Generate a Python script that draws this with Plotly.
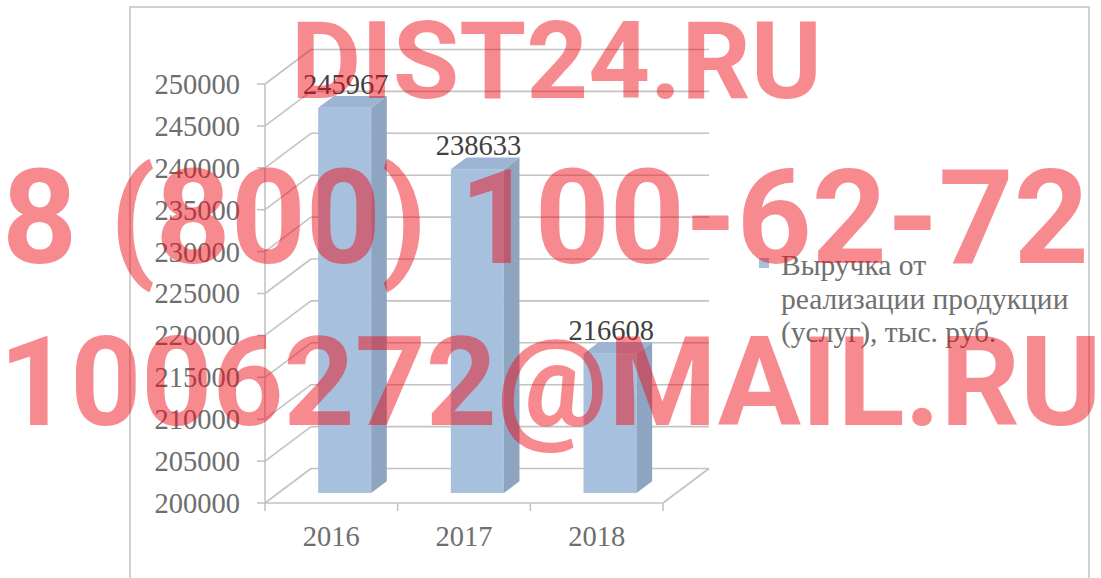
import plotly.graph_objects as go

# ---------------- data ----------------
years = ["2016", "2017", "2018"]
revenue = [245967, 238633, 216608]
y_tick_values = [200000, 205000, 210000, 215000, 220000, 225000,
                 230000, 235000, 240000, 245000, 250000]
y_tick_labels = [str(v) for v in y_tick_values]
series_name = "Выручка от реализации продукции (услуг), тыс. руб."
legend_lines = ["Выручка от", "реализации продукции", "(услуг), тыс. руб."]
watermark_lines = ["DIST24.RU", "8 (800) 100-62-72", "1006272@MAIL.RU"]

# ---------------- layout geometry (pixels) ----------------
W, H = 1101, 578
FRONT_LEFT_PX = 265          # x of front-left edge (category boundary -0.5)
CAT_PX = 398 / 3             # px per category
FLOOR_PX = 503               # y of value 200000 on the front plane
KY = 419 / 50000             # px per value unit
PL, PR, PT, PB = 250, 714, 40, 514   # plot area (padded so edge lines are not clipped)
DEPTH_DX_PX, DEPTH_DY_PX = 46, 34.5  # full depth of the 3D box
F_FRONT, F_BACK = 0.29, 0.63         # bar front/back depth fractions
BAR_W_PX = 53

Y0 = y_tick_values[0]
Y_TOP_TICK = y_tick_values[-1]
x_range = [-0.5 - (FRONT_LEFT_PX - PL) / CAT_PX, -0.5 + (PR - FRONT_LEFT_PX) / CAT_PX]
y_range = [Y0 - (PB - FLOOR_PX) / KY, Y0 + (FLOOR_PX - PT) / KY]
DX = DEPTH_DX_PX / CAT_PX
DY = DEPTH_DY_PX / KY
BW = BAR_W_PX / CAT_PX
n = len(years)
first_b, last_b = -0.5, n - 0.5

GRID = "#C3C3C3"
TXT = "#6E6E6E"
FRONT = "#A7C0DE"
SIDE = "#8EA5C1"
TOP = "#9DB5D3"
SERIF = "Liberation Serif, Times New Roman, serif"


def paper_x(px):
    return (px - PL) / (PR - PL)


def paper_y(py):
    return (PB - py) / (PB - PT)


fig = go.Figure()
shapes = []


def seg(x0, y0, x1, y1, color=GRID, width=1.6):
    shapes.append(dict(type="line", xref="x", yref="y", x0=x0, y0=y0, x1=x1, y1=y1,
                       line=dict(color=color, width=width), layer="below"))


# back wall gridlines + left wall diagonals
for v in y_tick_values:
    seg(first_b + DX, v + DY, last_b + DX, v + DY)
    seg(first_b, v, first_b + DX, v + DY)
    # y tick marks (outside, to the left of the front edge)
    seg(first_b - 8 / CAT_PX, v, first_b, v)
# floor front edge and right diagonal
seg(first_b, Y0, last_b, Y0)
seg(last_b, Y0, last_b + DX, Y0 + DY)
# front vertical axis
seg(first_b, Y0, first_b, Y_TOP_TICK)
# x tick marks at category boundaries
for i in range(n + 1):
    b = first_b + i
    seg(b, Y0, b, Y0 - 8 / KY)

# bars: front face
centers = [i + F_FRONT * DX for i in range(n)]
base_front = Y0 + F_FRONT * DY
fig.add_trace(go.Bar(
    x=centers, y=[v - Y0 for v in revenue], base=base_front, width=BW,
    marker=dict(color=FRONT, line=dict(width=0)), name=series_name,
    showlegend=False, hoverinfo="skip"))

ddx = (F_BACK - F_FRONT) * DX
ddy = (F_BACK - F_FRONT) * DY
for c, v in zip(centers, revenue):
    xl, xr = c - BW / 2, c + BW / 2
    top = v + F_FRONT * DY
    # side face
    fig.add_trace(go.Scatter(
        x=[xr, xr, xr + ddx, xr + ddx, xr], y=[base_front, top, top + ddy, base_front + ddy, base_front],
        mode="lines", fill="toself", fillcolor=SIDE, line=dict(width=0),
        showlegend=False, hoverinfo="skip"))
    # top face
    fig.add_trace(go.Scatter(
        x=[xl, xr, xr + ddx, xl + ddx, xl], y=[top, top, top + ddy, top + ddy, top],
        mode="lines", fill="toself", fillcolor=TOP, line=dict(width=0),
        showlegend=False, hoverinfo="skip"))

# data labels
fig.add_trace(go.Scatter(
    x=[c + ddx / 2 - 0.05 for c in centers], y=[v + F_BACK * DY - 5 / KY for v in revenue],
    mode="text", text=[str(v) for v in revenue], textposition="top center",
    textfont=dict(family=SERIF, size=28.5, color="#404040"),
    showlegend=False, hoverinfo="skip", cliponaxis=False))

# chart border
shapes.append(dict(type="rect", xref="paper", yref="paper",
                   x0=paper_x(130), x1=paper_x(1089), y0=paper_y(600), y1=paper_y(7),
                   line=dict(color="#D0D0D0", width=2), layer="below"))

# legend (drawn by hand so the line spacing matches)
shapes.append(dict(type="rect", xref="paper", yref="paper",
                   x0=paper_x(759), x1=paper_x(769), y0=paper_y(268), y1=paper_y(258),
                   fillcolor=FRONT, line=dict(width=0)))
annotations = []
for txt, cy in zip(legend_lines, [265, 299, 332]):
    annotations.append(dict(
        text=txt, xref="paper", yref="paper", x=paper_x(779), y=paper_y(cy),
        xanchor="left", yanchor="middle", showarrow=False,
        font=dict(family=SERIF, size=29.5, color="#707070")))

# watermark
wm_specs = [(556, 61, 108), (545, 218, 131), (550, 382, 124)]
for txt, (cx, cy, sz) in zip(watermark_lines, wm_specs):
    annotations.append(dict(
        text=txt, xref="paper", yref="paper", x=paper_x(cx), y=paper_y(cy),
        xanchor="center", yanchor="middle", showarrow=False,
        font=dict(family="Roboto, Liberation Sans, sans-serif", size=sz,
                  color="rgba(238,10,20,0.48)", weight=700)))

fig.update_layout(
    width=W, height=H,
    margin=dict(l=PL, r=W - PR, t=PT, b=H - PB, pad=0),
    paper_bgcolor="white", plot_bgcolor="rgba(0,0,0,0)",
    shapes=shapes, annotations=annotations,
    xaxis=dict(range=x_range, tickvals=list(range(n)), ticktext=years,
               showgrid=False, zeroline=False, showline=False, ticks="",
               tickfont=dict(family=SERIF, size=28.5, color=TXT),
               ticklabelstandoff=2, fixedrange=True),
    yaxis=dict(range=y_range, tickvals=y_tick_values, ticktext=y_tick_labels,
               showgrid=False, zeroline=False, showline=False, ticks="",
               tickfont=dict(family=SERIF, size=28.5, color=TXT),
               ticklabelstandoff=9, fixedrange=True),
    showlegend=False,
)

fig.write_html("out.html", config={"displayModeBar": False},
               post_script="document.body.style.margin='0';")
